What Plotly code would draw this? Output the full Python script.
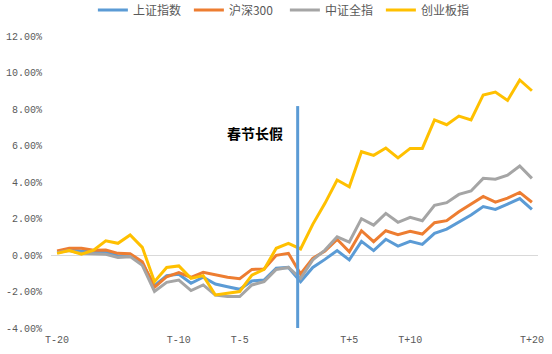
import plotly.graph_objects as go

categories = [f"T-{i}" for i in range(20, 0, -1)] + [f"T+{i}" for i in range(1, 21)]

shanghai = [0.15, 0.27, 0.22, 0.15, 0.18, -0.05, -0.02, -0.46, -1.68, -1.13,
            -1.06, -1.55, -1.22, -1.59, -1.74, -1.88, -1.42, -1.37, -0.73, -0.68,
            -1.46, -0.68, -0.24, 0.24, -0.27, 0.75, 0.24, 0.86, 0.49, 0.75,
            0.58, 1.19, 1.42, 1.79, 2.19, 2.65, 2.50, 2.79, 3.09, 2.50]
hs300 = [0.22, 0.37, 0.37, 0.26, 0.27, 0.09, 0.07, -0.37, -1.77, -1.19,
         -0.97, -1.22, -0.95, -1.10, -1.22, -1.30, -0.79, -0.77, -0.02, 0.09,
         -1.04, -0.18, 0.22, 0.86, 0.18, 1.33, 0.73, 1.33, 1.11, 1.30,
         1.15, 1.77, 1.88, 2.37, 2.79, 3.21, 2.90, 3.12, 3.43, 2.89]
csi_all = [0.13, 0.24, 0.09, 0.05, 0.04, -0.13, -0.09, -0.57, -2.00, -1.50,
           -1.37, -1.95, -1.64, -2.19, -2.28, -2.28, -1.64, -1.46, -0.79, -0.68,
           -1.28, -0.27, 0.27, 1.00, 0.71, 1.99, 1.64, 2.28, 1.79, 2.06,
           1.88, 2.72, 2.87, 3.32, 3.51, 4.20, 4.15, 4.37, 4.88, 4.20]
chinext = [0.09, 0.24, 0.05, 0.27, 0.78, 0.64, 1.10, 0.42, -1.46, -0.68,
           -0.60, -1.28, -1.13, -2.19, -2.10, -2.00, -1.10, -0.79, 0.37, 0.64,
           0.33, 1.68, 2.83, 4.11, 3.74, 5.66, 5.46, 5.86, 5.32, 5.84,
           5.84, 7.40, 7.14, 7.61, 7.40, 8.77, 8.93, 8.47, 9.59, 9.00]

series_names = ["上证指数", "沪深300", "中证全指", "创业板指"]
series_values = [shanghai, hs300, csi_all, chinext]
series_colors = ["#5B9BD5", "#ED7D31", "#A5A5A5", "#FFC000"]

x_tick_labels = ["T-20", "T-10", "T-5", "T+5", "T+10", "T+20"]
y_tick_values = [-4, -2, 0, 2, 4, 6, 8, 10, 12]
y_tick_labels = [f"{v:.2f}%" for v in y_tick_values]

holiday_label = "春节长假"
holiday_x = 19.76
holiday_top = 8.16
label_x = 16.26
label_y = 6.68

fig = go.Figure()
for name, vals, color in zip(series_names, series_values, series_colors):
    fig.add_trace(go.Scatter(
        x=categories, y=vals, name=name, mode="lines",
        line=dict(color=color, width=3),
    ))

fig.add_shape(type="line", xref="x", yref="y",
              x0=holiday_x, x1=holiday_x, y0=y_tick_values[0], y1=holiday_top,
              line=dict(color="#5B9BD5", width=3))

fig.add_annotation(x=label_x, y=label_y, xref="x", yref="y", text=holiday_label,
                   showarrow=False,
                   font=dict(family="Noto Sans CJK SC", size=14, color="#000000", weight="bold"))

fig.update_layout(
    width=552, height=354,
    margin=dict(l=51, r=14, t=36, b=26, autoexpand=False),
    plot_bgcolor="white", paper_bgcolor="white",
    showlegend=True,
    legend=dict(orientation="h", x=0.086, xanchor="left", y=1.089, yanchor="middle",
                yref="paper",
                font=dict(family="Noto Sans CJK SC", size=12, color="#595959"),
                itemwidth=30, entrywidth=51, entrywidthmode="pixels"),
    xaxis=dict(type="category", categoryorder="array", categoryarray=categories,
               tickmode="array", tickvals=x_tick_labels, ticktext=x_tick_labels,
               range=[-0.5, len(categories) - 0.5],
               showgrid=False, zeroline=False, showline=False, ticks="",
               ticklabelstandoff=4,
               tickfont=dict(family="Liberation Mono", size=10, color="#595959")),
    yaxis=dict(range=[y_tick_values[0], y_tick_values[-1]],
               tickmode="array", tickvals=y_tick_values, ticktext=y_tick_labels,
               showgrid=False, zeroline=True, zerolinecolor="#D9D9D9", zerolinewidth=1,
               showline=False, ticks="", ticklabelstandoff=8,
               tickfont=dict(family="Liberation Mono", size=10, color="#595959")),
)

fig.write_html("out.html")
